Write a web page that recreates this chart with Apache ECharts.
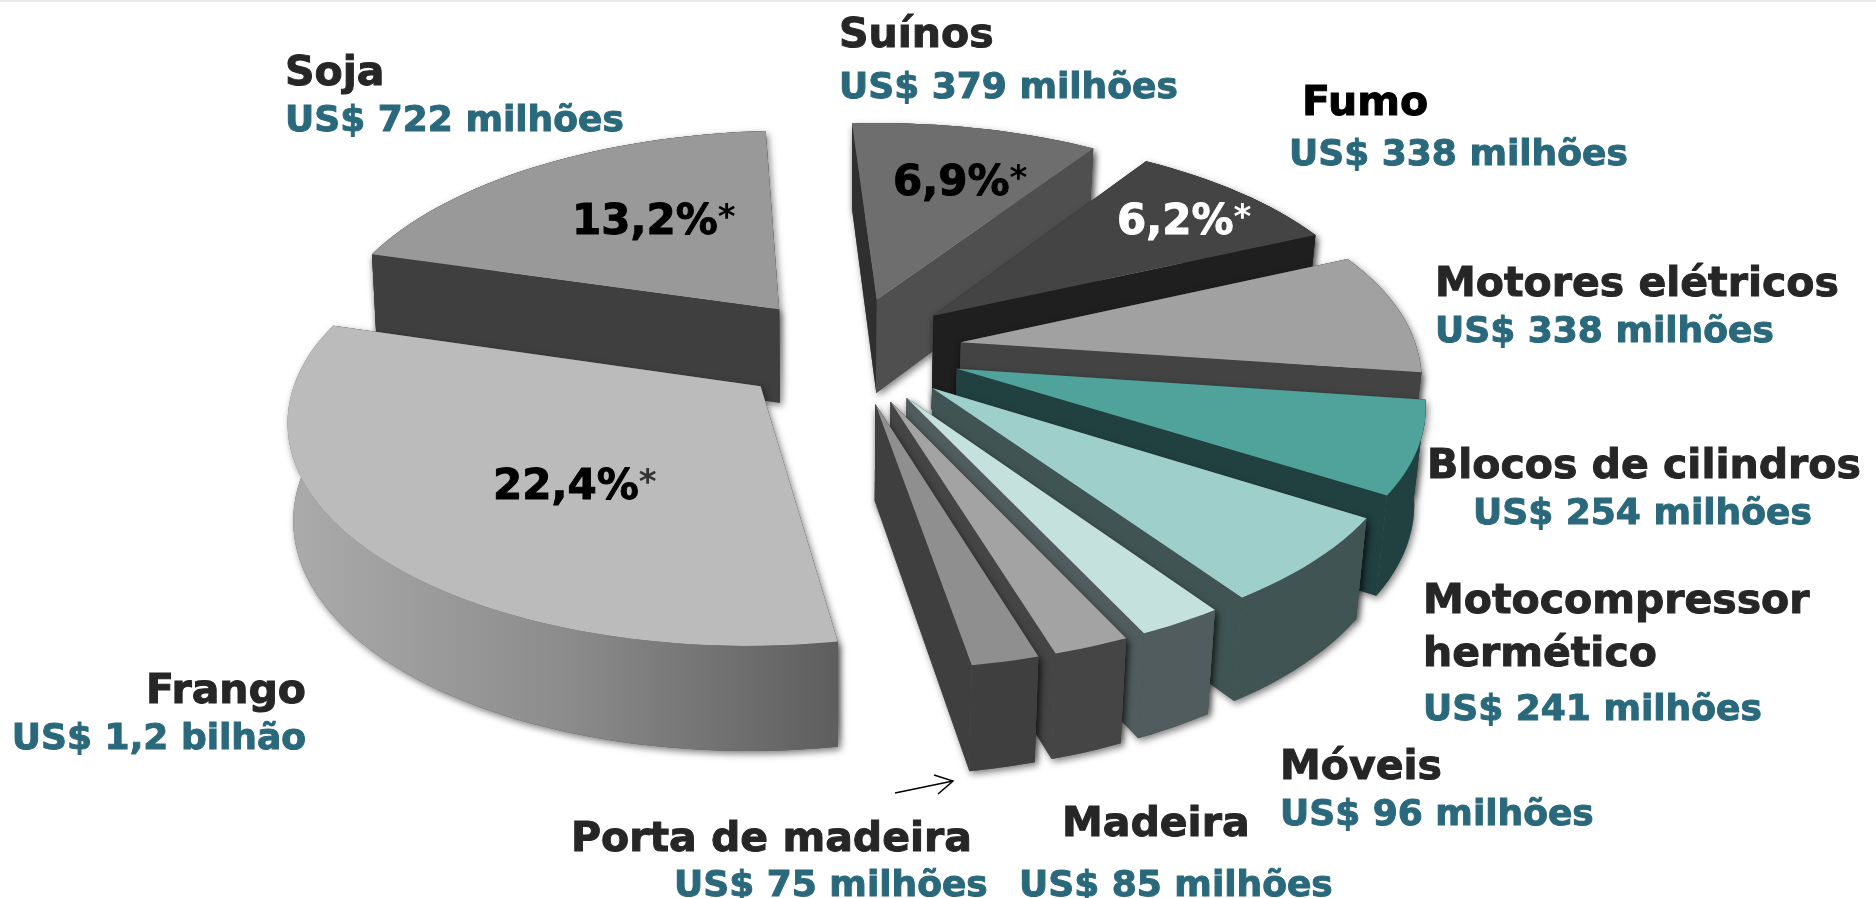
<!DOCTYPE html>
<html>
<head>
<meta charset="utf-8">
<title>Exportações</title>
<style>
  html, body { margin: 0; padding: 0; background: #fff; }
  #chart { width: 1876px; height: 898px; }
</style>
<script src="https://cdn.jsdelivr.net/npm/echarts@6/dist/echarts.min.js"></script>
</head>
<body>
<div id="chart"></div>
<script>
// clockwise from the Soja slice, so later slices paint over earlier ones
const categories = ["Soja", "Suínos", "Fumo", "Motores elétricos", "Blocos de cilindros", "Motocompressor hermético", "Móveis", "Madeira", "Porta de madeira", "Frango"];
const exportValues = [722, 379, 338, 338, 254, 241, 96, 85, 75, 1200];
const valueLabels = ["US$ 722 milhões", "US$ 379 milhões", "US$ 338 milhões", "US$ 338 milhões", "US$ 254 milhões", "US$ 241 milhões", "US$ 96 milhões", "US$ 85 milhões", "US$ 75 milhões", "US$ 1,2 bilhão"];
const shareLabels = ["13,2%", "6,9%", "6,2%", "22,4%"];

// slice colours
const topColors = ["#999999", "#6e6e6e", "#444444", "#a1a1a1", "#4fa39b", "#9ecfcb", "#c5e1de", "#a3a3a3", "#8f8f8f", "#bbbbbb"];
const wallColors = ["#3f3f3f", "#4f4f4f", "#1f1f1f", "#434343", "#214141", "#405553", "#515c5e", "#454545", "#3f3f3f", "#5e5e5e"];
const leftWallColors = { 1: "#2f2f2f" };

// projection of the tilted pie
const CX = 848, CY = 350, SCALE_X = 460, SCALE_Y = 215, PERSP = 0.137;
const EXPLODE = 0.249, RADIUS = 0.992, DEPTH = 95, START_ANGLE = -73.6;

function project(x, y, down) {
  const w = 1 - PERSP * y;
  const shrink = !down ? 1 : (x < 0 ? 0.99 : 0.98);
  const skew = y < 0 ? -5 * y : 2 * y;
  return [
    CX + SCALE_X * x / w * shrink + skew,
    CY + SCALE_Y * y / w + (down ? DEPTH / Math.pow(w, 0.6) : 0)
  ];
}

function dir(deg) {
  const a = deg * Math.PI / 180;
  return [Math.sin(a), -Math.cos(a)];
}

const total = exportValues.reduce((a, b) => a + b, 0);

function renderSlice(params) {
  const i = params.dataIndex;
  let before = 0;
  for (let k = 0; k < i; k++) before += exportValues[k];
  const a0 = START_ANGLE + before / total * 360;
  const a1 = a0 + exportValues[i] / total * 360;
  const mid = dir((a0 + a1) / 2);
  const ox = mid[0] * EXPLODE, oy = mid[1] * EXPLODE;

  const rimTop = [], rimBottom = [];
  const steps = Math.max(6, Math.round((a1 - a0) / 2));
  for (let s = 0; s <= steps; s++) {
    const d = dir(a0 + (a1 - a0) * s / steps);
    const gx = ox + d[0] * RADIUS, gy = oy + d[1] * RADIUS;
    rimTop.push(project(gx, gy, false));
    rimBottom.push(project(gx, gy, true));
  }
  const apexTop = project(ox, oy, false);
  const apexBottom = project(ox, oy, true);
  const last = rimTop.length - 1;

  const outer = rimTop.concat(rimBottom.slice().reverse());
  const leftWall = [apexTop, rimTop[0], rimBottom[0], apexBottom];
  const rightWall = [apexTop, rimTop[last], rimBottom[last], apexBottom];
  const wall = wallColors[i];
  const isFrango = categories[i] === "Frango";
  const outerFill = isFrango
    ? new echarts.graphic.LinearGradient(0, 0, 1, 0, [
        { offset: 0, color: "#ababab" },
        { offset: 0.5, color: "#8c8c8c" },
        { offset: 1, color: "#5e5e5e" }
      ])
    : wall;
  const shadow = { shadowBlur: 7, shadowColor: "rgba(0,0,0,0.5)", shadowOffsetX: 2, shadowOffsetY: 3 };
  const poly = (points, fill, extra) => ({
    type: "polygon",
    shape: { points: points },
    style: Object.assign({ fill: fill }, extra || {})
  });
  const outerFace = poly(outer, outerFill);
  const sideFaces = [poly(leftWall, leftWallColors[i] || wall), poly(rightWall, wall)];
  const walls = isFrango ? sideFaces.concat([outerFace]) : [outerFace].concat(sideFaces);

  return {
    type: "group",
    children: [
      poly(outer, "#555", shadow),
      poly(leftWall, "#555", shadow),
      poly(rightWall, "#555", shadow)
    ].concat(walls, [poly([apexTop].concat(rimTop), topColors[i])])
  };
}

// label layout: [text, x, y, kind, align]
const labelLayout = [
  [categories[0], 285, 74, "name"],
  [valueLabels[0], 285, 122, "value"],
  [categories[1], 839, 36, "name"],
  [valueLabels[1], 839, 89, "value"],
  [categories[2], 1302, 104, "black"],
  [valueLabels[2], 1289, 156, "value"],
  [categories[3], 1435, 285, "name"],
  [valueLabels[3], 1435, 333, "value"],
  [categories[4], 1427, 467, "name"],
  [valueLabels[4], 1473, 515, "value"],
  ["Motocompressor", 1423, 602, "name"],
  ["hermético", 1423, 655, "name"],
  [valueLabels[5], 1423, 711, "value"],
  [categories[6], 1280, 768, "name"],
  [valueLabels[6], 1280, 816, "value"],
  [categories[7], 1062, 825, "name"],
  [valueLabels[7], 1019, 887, "value"],
  [categories[8], 571, 840, "name"],
  [valueLabels[8], 674, 887, "value"],
  [categories[9], 306, 692, "name", "right"],
  [valueLabels[9], 306, 740, "value", "right"]
];
const shareLayout = [
  [shareLabels[0], 572, 223, "#000", "#000"],
  [shareLabels[1], 893, 184, "#000", "#000"],
  [shareLabels[2], 1117, 223, "#fff", "#fff"],
  [shareLabels[3], 493, 488, "#000", "#333"]
];
const NAME_FONT = 'bold 41px "DejaVu Sans"';
const labelStyles = {
  name: { font: NAME_FONT, fill: "#262626" },
  black: { font: NAME_FONT, fill: "#000" },
  value: { font: 'bold 36px "DejaVu Sans"', fill: "#2a697c" }
};

const graphics = [
  { type: "rect", shape: { x: 0, y: 0, width: 1876, height: 2 }, style: { fill: "#e9e9e9" } },
  { type: "polyline", shape: { points: [[895, 793], [953, 781]] }, style: { stroke: "#000", lineWidth: 1.5, fill: null } },
  { type: "polyline", shape: { points: [[934, 775], [953, 781], [938, 794]] }, style: { stroke: "#000", lineWidth: 1.5, fill: null } }
];
labelLayout.forEach(l => {
  const st = labelStyles[l[3]];
  graphics.push({
    type: "text", x: l[1], y: l[2], z: 10,
    style: { text: l[0], font: st.font, fill: st.fill, stroke: st.fill, lineWidth: 1, textAlign: l[4] || "left", textVerticalAlign: "middle" }
  });
});
shareLayout.forEach(l => {
  graphics.push({
    type: "text", x: l[1], y: l[2], z: 10,
    style: {
      text: "{a|" + l[0] + "}{b|*}",
      textAlign: "left", textVerticalAlign: "middle",
      rich: {
        a: { font: 'bold 42px "DejaVu Sans"', fill: l[3], stroke: l[3], lineWidth: 1 },
        b: { font: 'bold 34px "DejaVu Sans"', fill: l[4], verticalAlign: "top" }
      }
    }
  });
});

const chart = echarts.init(document.getElementById("chart"));
chart.setOption({
  animation: false,
  backgroundColor: "#fff",
  graphic: { elements: graphics },
  series: [{
    type: "custom",
    coordinateSystem: "none",
    silent: true,
    renderItem: renderSlice,
    data: categories.map((name, i) => ({ name: name, value: exportValues[i] }))
  }]
});

window.addEventListener("resize", function () { chart.resize(); });
</script>
</body>
</html>
